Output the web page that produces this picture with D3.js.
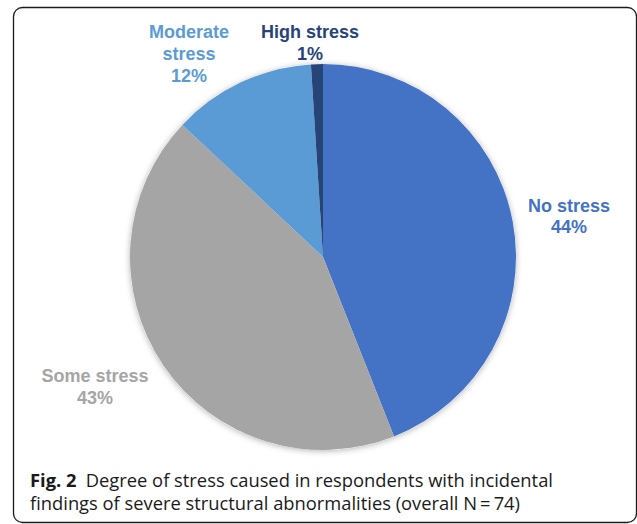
<!DOCTYPE html>
<html>
<head>
<meta charset="utf-8">
<script src="https://cdn.jsdelivr.net/npm/d3@7"></script>
<style>
  body { margin: 0; background: #fff; }
  svg { display: block; }
</style>
</head>
<body>
<div class="vis"></div>
<script>
// data
const categories = ['No stress', 'Some stress', 'Moderate stress', 'High stress']
const percents = [44, 43, 12, 1]
const colors = ['#4472C4', '#A5A5A5', '#5B9BD5', '#264478']
// label lines (as printed in the figure)
const labelLines = [['No stress', '44%'], ['Some stress', '43%'], ['Moderate', 'stress', '12%'], ['High stress', '1%']]
const captionBold = 'Fig. 2'
const captionLines = ['Degree of stress caused in respondents with incidental',
                      'findings of severe structural abnormalities (overall N\u2009=\u200974)']

const w = 637
const h = 524
const cx = 323, cy = 257, r = 193

const svg = d3.select('.vis')
    .append('svg')
    .attr('width', w)
    .attr('height', h)

// soft shadow like the office chart
const defs = svg.append('defs')
const f = defs.append('filter').attr('id', 'shadow')
    .attr('x', '-10%').attr('y', '-10%').attr('width', '120%').attr('height', '120%')
f.append('feDropShadow')
    .attr('dx', 0).attr('dy', 1)
    .attr('stdDeviation', 3)
    .attr('flood-color', '#000').attr('flood-opacity', 0.3)

// frame
svg.append('rect')
    .attr('x', 13.5).attr('y', 7.5)
    .attr('width', 623).attr('height', 515)
    .attr('rx', 9)
    .attr('fill', 'none')
    .attr('stroke', '#1a1a1a')
    .attr('stroke-width', 1.3)

const pie = d3.pie().sort(null).value(d => d)
const arcs = pie(percents)
const arc = d3.arc().innerRadius(0).outerRadius(r)

const g = svg.append('g').attr('transform', 'translate(' + cx + ',' + cy + ')')

g.append('circle').attr('r', r).attr('fill', '#fff').attr('filter', 'url(#shadow)')

g.selectAll('path')
    .data(arcs)
    .enter().append('path')
    .attr('d', arc)
    .attr('fill', (d, i) => colors[i])

// label anchor points (centre x, first baseline)
const labelPos = [[569, 212], [95, 382], [189, 38], [310, 38]]
const lineGap = [21, 22, 22, 22]

labelLines.forEach((lines, i) => {
    const t = svg.append('text')
        .attr('x', labelPos[i][0])
        .attr('y', labelPos[i][1])
        .attr('text-anchor', 'middle')
        .attr('font-family', 'Liberation Sans, Arial, sans-serif')
        .attr('font-weight', 'bold')
        .attr('font-size', 18)
        .attr('fill', colors[i])
    lines.forEach((s, k) => {
        t.append('tspan')
            .attr('x', labelPos[i][0])
            .attr('dy', k == 0 ? 0 : lineGap[i])
            .text(s)
    })
})

// caption
const cap = svg.append('text')
    .attr('x', 30).attr('y', 487)
    .attr('font-family', 'Open Sans, Noto Sans, sans-serif')
    .attr('font-size', 18.5)
    .attr('fill', '#1a1a1a')
    .attr('textLength', 523)
    .attr('lengthAdjust', 'spacingAndGlyphs')
cap.append('tspan').attr('font-weight', 'bold').text(captionBold)
cap.append('tspan').text('\u2002' + captionLines[0])

svg.append('text')
    .attr('x', 30).attr('y', 510)
    .attr('font-family', 'Open Sans, Noto Sans, sans-serif')
    .attr('font-size', 18.5)
    .attr('fill', '#1a1a1a')
    .attr('textLength', 490)
    .attr('lengthAdjust', 'spacingAndGlyphs')
    .text(captionLines[1])
</script>
</body>
</html>
